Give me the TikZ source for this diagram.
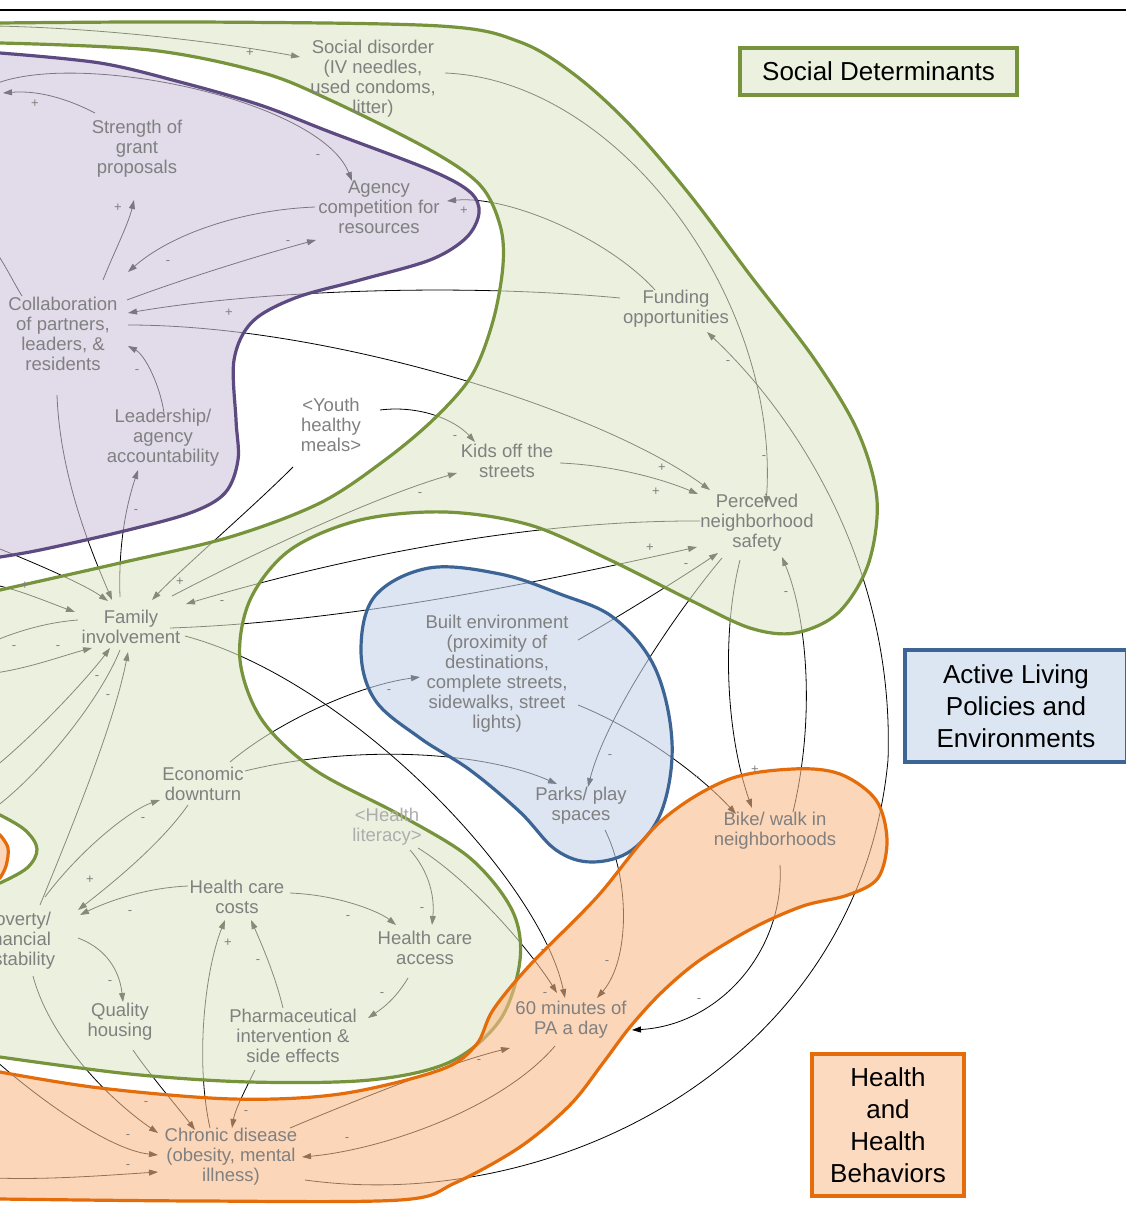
\documentclass[tikz,border=0pt]{standalone}
\usepackage{fontspec}
\setmainfont{Liberation Sans}
\usetikzlibrary{arrows.meta}
\definecolor{txtg}{HTML}{808080}
\definecolor{txtl}{HTML}{ADADAD}
\definecolor{grnL}{HTML}{77933C}
\definecolor{grnF}{RGB}{222,232,200}
\definecolor{grnH}{HTML}{EBF1DE}
\definecolor{purL}{HTML}{5C4A80}
\definecolor{purF}{RGB}{205,195,220}
\definecolor{bluL}{HTML}{3C6494}
\definecolor{bluF}{RGB}{197,213,233}
\definecolor{bluH}{HTML}{DCE6F2}
\definecolor{orgL}{HTML}{E46C0A}
\definecolor{orgF}{RGB}{250,187,137}
\definecolor{orgH}{HTML}{FCDAC0}
\pgfdeclarelayer{bg}\pgfdeclarelayer{conn}\pgfdeclarelayer{blob}
\pgfsetlayers{bg,conn,blob,main}
\begin{document}
\begin{tikzpicture}[x=1pt,y=-1pt,
  lbl/.style={text=txtg, align=center, inner sep=0pt, font=\fontsize{18.5}{20}\selectfont},
  conn/.style={draw=black, line width=0.8pt, -{Triangle[length=9pt,width=6pt]}},
  plainc/.style={draw=black, line width=0.8pt},
  pol/.style={text=txtg, inner sep=0pt, font=\fontsize{13}{13}\selectfont},
  hdr/.style={draw, line width=4pt, align=center, text=black, inner sep=0pt},
  fillG/.style={fill=grnF, fill opacity=0.6, even odd rule},
  lineG/.style={draw=grnL, line width=3.2pt}]
\useasboundingbox (0,0) rectangle (1126,1209);
\begin{pgfonlayer}{bg}
\fill[white] (0,0) rectangle (1126,1209);
\end{pgfonlayer}

% ---------- variable nodes ----------
\node[lbl] (sd) at (373,79) {Social disorder\\(IV needles,\\used condoms,\\litter)};
\node[lbl] (sg) at (137,149) {Strength of\\grant\\proposals};
\node[lbl] (ac) at (379,207) {Agency\\competition for\\resources};
\node[lbl] (co) at (63,334) {Collaboration\\of partners,\\leaders, \&\\residents};
\node[lbl] (fo) at (676,309) {Funding\\opportunities};
\node[lbl] (la) at (163,438) {Leadership/\\agency\\accountability};
\node[lbl] (yh) at (331,425) {<Youth\\healthy\\meals>};
\node[lbl] (ko) at (507,461) {Kids off the\\streets};
\node[lbl] (ps) at (757,523) {Perceived\\neighborhood\\safety};
\node[lbl] (fi) at (131,627) {Family\\involvement};
\node[lbl] (be) at (497,674) {Built environment\\(proximity of\\destinations,\\complete streets,\\sidewalks, street\\lights)};
\node[lbl] (ed) at (203,784) {Economic\\downturn};
\node[lbl] (pp) at (581,806) {Parks/ play\\spaces};
\node[lbl,text=txtl] (hl) at (387,827) {<Health\\literacy>};
\node[lbl] (bw) at (775,831) {Bike/ walk in\\neighborhoods};
\node[lbl] (hc) at (237,897) {Health care\\costs};
\node[lbl] (pv) at (17,941) {Poverty/\\financial\\instability};
\node[lbl] (ha) at (425,948) {Health care\\access};
\node[lbl] (qh) at (120,1022) {Quality\\housing};
\node[lbl] (ph) at (293,1036) {Pharmaceutical\\intervention \&\\side effects};
\node[lbl] (pa) at (571,1020) {60 minutes of\\PA a day};
\node[lbl] (cd) at (231,1157) {Chronic disease\\(obesity, mental\\illness)};

% free ends at the left edge
\coordinate (la1) at (-5,26);
\coordinate (ld1) at (-5,84);
\coordinate (ls1) at (3,93);
\coordinate (lc0) at (-5,250);
\coordinate (lf0) at (-5,547);
\coordinate (lf1) at (-5,585);
\coordinate (lf2) at (-15,645);
\coordinate (lf3) at (-5,673);
\coordinate (lf4) at (-5,767);
\coordinate (lf5) at (-15,815);
\coordinate (lc1) at (-5,1060);
\coordinate (lc2) at (-5,1178);
\coordinate (arcm) at (888,760);

% ---------- connectors ----------
\begin{pgfonlayer}{conn}
\draw[conn] (la1) .. controls +(105,2) and +(-80,-15) .. ([shift={(-73,-22)}]sd.center);
\draw[conn] (ld1) .. controls +(85,-34) and +(-32,-81) .. ([shift={(-27,-26)}]ac.center);
\draw[conn] ([shift={(-42,-36)}]sg.center) .. controls +(-25,-13) and +(37,-3) .. (ls1);
\draw[conn] ([shift={(40,-54)}]co.center) .. controls +(12,-30) and +(-6,25) .. ([shift={(-3,51)}]sg.center);
\draw[conn] ([shift={(-64,0)}]ac.center) .. controls +(-75,3) and +(42,-37) .. ([shift={(65,-62)}]co.center);
\draw[conn] ([shift={(64,-34)}]co.center) .. controls +(53,-20) and +(-56,15) .. ([shift={(-63,33)}]ac.center);
\draw[conn] ([shift={(-21,-19)}]fo.center) .. controls +(-45,-50) and +(63,-6) .. ([shift={(68,-6)}]ac.center);
\draw[conn] ([shift={(-56,-11)}]fo.center) .. controls +(-170,-16) and +(122,-21) .. ([shift={(65,-21)}]co.center);
\draw[conn] ([shift={(65,-9)}]co.center) .. controls +(202,0) and +(-110,-80) .. ([shift={(-47,-33)}]ps.center);
\draw[conn] ([shift={(72,-6)}]sd.center) .. controls +(175,7) and +(14,-205) .. ([shift={(9,-18)}]ps.center);
\draw[conn] ([shift={(74,23)}]cd.center) .. controls +(255,35) and +(-28,300) .. (arcm)
            .. controls +(7,-200) and +(83,78) .. ([shift={(31,23)}]fo.center);
\draw[conn] ([shift={(1,-25)}]la.center) .. controls +(-4,-28) and +(17,9) .. ([shift={(65,12)}]co.center);
\draw[conn] ([shift={(-11,-30)}]fi.center) .. controls +(-2,-57) and +(-10,30) .. ([shift={(-25,32)}]la.center);
\draw[conn] ([shift={(-6,61)}]co.center) .. controls +(3,85) and +(-17,-40) .. ([shift={(-19,-27)}]fi.center);
\draw[conn] (lf0) .. controls +(45,18) and +(-23,-16) .. ([shift={(-23,-26)}]fi.center);
\draw[plainc] (lc0) .. controls +(13,20) and +(-7,-11) .. ([shift={(-41,-38)}]co.center);
\draw[conn] ([shift={(49,-15)}]yh.center) .. controls +(40,-5) and +(-20,-22) .. ([shift={(-32,-19)}]ko.center);
\draw[conn] ([shift={(-38,42)}]yh.center) .. controls +(-43,43) and +(28,-30) .. ([shift={(21,-27)}]fi.center);
\draw[conn] ([shift={(41,-31)}]fi.center) .. controls +(88,-46) and +(-77,22) .. ([shift={(-50,12)}]ko.center);
\draw[conn] ([shift={(53,2)}]ko.center) .. controls +(50,2) and +(-38,-16) .. ([shift={(-59,-29)}]ps.center);
\draw[conn] ([shift={(-57,-2)}]ps.center) .. controls +(-200,-1) and +(114,-34) .. ([shift={(55,-23)}]fi.center);
\draw[conn] ([shift={(39,1)}]fi.center) .. controls +(180,-6) and +(-147,33) .. ([shift={(-60,24)}]ps.center);
\draw[conn] ([shift={(81,-34)}]be.center) .. controls +(52,-30) and +(-28,19) .. ([shift={(-39,30)}]ps.center);
\draw[conn] ([shift={(-35,35)}]ps.center) .. controls +(-52,62) and +(17,-67) .. ([shift={(7,-19)}]pp.center);
\draw[conn] ([shift={(-17,37)}]ps.center) .. controls +(-20,80) and +(-24,-68) .. ([shift={(-23,-23)}]bw.center);
\draw[conn] ([shift={(18,-19)}]bw.center) .. controls +(22,-92) and +(26,63) .. ([shift={(25,34)}]ps.center);
\draw[conn] ([shift={(81,31)}]be.center) .. controls +(62,25) and +(-36,-39) .. ([shift={(-39,-17)}]bw.center);
\draw[conn] ([shift={(27,-22)}]ed.center) .. controls +(50,-42) and +(-60,8) .. ([shift={(-77,3)}]be.center);
\draw[conn] ([shift={(42,-13)}]ed.center) .. controls +(105,-26) and +(-77,-34) .. ([shift={(-24,-22)}]pp.center);
\draw[conn] ([shift={(54,9)}]fi.center) .. controls +(165,44) and +(-25,-118) .. ([shift={(-6,-22)}]pa.center);
\draw[conn] ([shift={(31,21)}]hl.center) .. controls +(52,32) and +(-27,-43) .. ([shift={(-14,-27)}]pa.center);
\draw[conn] ([shift={(23,23)}]hl.center) .. controls +(18,20) and +(3,-30) .. ([shift={(7,-23)}]ha.center);
\draw[conn] ([shift={(24,24)}]pp.center) .. controls +(25,50) and +(33,-38) .. ([shift={(26,-22)}]pa.center);
\draw[conn] ([shift={(5,34)}]bw.center) .. controls +(5,85) and +(88,-5) .. ([shift={(61,10)}]pa.center);
\draw[conn] ([shift={(-15,21)}]ed.center) .. controls +(-28,40) and +(32,-25) .. ([shift={(61,-31)}]pv.center);
\draw[conn] ([shift={(28,-44)}]pv.center) .. controls +(35,-47) and +(-30,10) .. ([shift={(-43,16)}]ed.center);
\draw[conn] ([shift={(-49,-11)}]hc.center) .. controls +(-48,2) and +(20,-10) .. ([shift={(63,-26)}]pv.center);
\draw[conn] ([shift={(53,-4)}]hc.center) .. controls +(50,2) and +(-16,-13) .. ([shift={(-29,-23)}]ha.center);
\draw[conn] ([shift={(61,-3)}]pv.center) .. controls +(32,12) and +(-3,-27) .. ([shift={(3,-20)}]qh.center);
\draw[conn] ([shift={(16,35)}]pv.center) .. controls +(17,64) and +(-48,-33) .. ([shift={(-73,-24)}]cd.center);
\draw[conn] ([shift={(13,28)}]qh.center) .. controls +(17,25) and +(-15,-20) .. ([shift={(-36,-27)}]cd.center);
\draw[conn] ([shift={(-21,-29)}]cd.center) .. controls +(-15,-68) and +(-20,50) .. ([shift={(-12,23)}]hc.center);
\draw[conn] ([shift={(-10,-28)}]ph.center) .. controls +(-8,-33) and +(11,25) .. ([shift={(14,23)}]hc.center);
\draw[conn] ([shift={(-17,30)}]ha.center) .. controls +(-13,22) and +(12,-8) .. ([shift={(75,-18)}]ph.center);
\draw[conn] ([shift={(-38,34)}]ph.center) .. controls +(-10,20) and +(3,-18) .. ([shift={(1,-29)}]cd.center);
\draw[conn] ([shift={(59,-29)}]cd.center) .. controls +(90,-38) and +(-50,12) .. ([shift={(-61,28)}]pa.center);
\draw[conn] ([shift={(-16,26)}]pa.center) .. controls +(-55,64) and +(78,-7) .. ([shift={(71,0)}]cd.center);
\draw[conn] (lc1) .. controls +(45,40) and +(-48,-5) .. ([shift={(-73,-2)}]cd.center);
\draw[conn] (lc2) .. controls +(55,2) and +(-48,3) .. ([shift={(-73,15)}]cd.center);
\draw[conn] (lf1) .. controls +(25,5) and +(-25,-9) .. ([shift={(-56,-15)}]fi.center);
\draw[conn] ([shift={(-53,-7)}]fi.center) .. controls +(-28,2) and +(35,-15) .. (lf2);
\draw[conn] (lf3) .. controls +(35,-5) and +(-27,7) .. ([shift={(-39,21)}]fi.center);
\draw[conn] (lf4) .. controls +(45,-37) and +(-20,27) .. ([shift={(-21,21)}]fi.center);
\draw[conn] ([shift={(-11,23)}]fi.center) .. controls +(-20,50) and +(55,-40) .. (lf5);
\draw[conn] ([shift={(23,-36)}]pv.center) .. controls +(35,-85) and +(-13,68) .. ([shift={(-3,25)}]fi.center);
\end{pgfonlayer}

% ---------- regions ----------
\begin{pgfonlayer}{blob}
\def\gouter{(-30,23) -- plot[smooth,tension=0.55] coordinates {(0,23) (200,22) (440,26) (520,42) (575,75) (630,125) (690,195) (750,275) (815,360) (858,432) (877,500) (868,565) (838,613) (795,633) (750,628) (690,600) (610,560) (530,525) (445,512) (360,520) (290,550) (250,600) (240,660) (262,720) (315,770) (400,815) (470,858) (512,910) (520,960) (500,1020) (450,1062) (370,1080) (250,1082) (130,1074) (0,1057)} -- (-30,1057) -- cycle}
\def\ghole{(-30,43) -- plot[smooth,tension=0.55] coordinates {(0,43) (150,50) (260,72) (330,100) (430,150) (480,185) (500,225) (503,265) (493,321) (472,375) (435,418) (385,460) (320,503) (230,537) (120,563) (0,590)} -- (-30,590) -- cycle}
\def\gholeb{(-30,815) -- plot[smooth,tension=0.6] coordinates {(0,815) (25,830) (37,849) (27,868) (0,883)} -- (-30,883) -- cycle}
\path[fillG] \gouter \ghole \gholeb;
\draw[lineG] \gouter;
\draw[lineG] \ghole;
\draw[lineG] \gholeb;
% purple
\path[fill=purF, fill opacity=0.6] (-30,53) -- plot[smooth,tension=0.55] coordinates {(0,53) (100,63) (180,82) (260,105) (330,132) (430,170) (470,192) (479,213) (466,238) (430,260) (360,280) (295,298) (252,322) (234,360) (236,420) (238,460) (225,493) (190,513) (120,532) (40,550) (0,557)} -- (-30,557) -- cycle;
\draw[draw=purL, line width=3.2pt] (-30,53) -- plot[smooth,tension=0.55] coordinates {(0,53) (100,63) (180,82) (260,105) (330,132) (430,170) (470,192) (479,213) (466,238) (430,260) (360,280) (295,298) (252,322) (234,360) (236,420) (238,460) (225,493) (190,513) (120,532) (40,550) (0,557)} -- (-30,557);
% blue
\path[fill=bluF, fill opacity=0.6, draw=bluL, draw opacity=1, line width=3.2pt] plot[smooth cycle,tension=0.6] coordinates {(375,596) (429,568) (500,574) (560,594) (614,618) (655,668) (672,742) (662,810) (632,850) (592,862) (556,850) (520,812) (470,770) (420,738) (375,700) (361,650)};
% orange
\path[fill=orgF, fill opacity=0.6, draw=orgL, draw opacity=1, line width=3.2pt] (-30,1072) -- plot[smooth,tension=0.55] coordinates {(0,1072) (100,1088) (233,1099) (340,1094) (440,1070) (476,1045) (493,1010) (530,965) (597,897) (660,822) (727,780) (793,769) (840,774) (876,800) (887,840) (878,878) (848,895) (803,906) (753,928) (700,960) (662,992) (630,1027) (603,1063) (570,1105) (520,1147) (455,1183) (400,1200) (200,1201) (0,1199)} -- (-30,1199) -- cycle;
\path[fill=orgF, fill opacity=0.6, draw=orgL, draw opacity=1, line width=3.2pt] (-30,835) -- plot[smooth,tension=0.6] coordinates {(0,835) (8,848) (6,866) (0,878)} -- (-30,878) -- cycle;
\end{pgfonlayer}

% ---------- polarity labels ----------
\node[pol] (q1) at (250,53) {+};
\node[pol] (q2) at (318,157) {-};
\node[pol] (q3) at (35,104) {+};
\node[pol] (q4) at (118,208) {+};
\node[pol] (q5) at (168,263) {-};
\node[pol] (q6) at (288,243) {-};
\node[pol] (q7) at (464,211) {+};
\node[pol] (q8) at (229,313) {+};
\node[pol] (q9) at (662,468) {+};
\node[pol] (q10) at (764,458) {-};
\node[pol] (q11) at (728,363) {-};
\node[pol] (q12) at (137,372) {-};
\node[pol] (q13) at (136,512) {-};
\node[pol] (q14) at (455,438) {-};
\node[pol] (q15) at (180,582) {+};
\node[pol] (q16) at (420,495) {-};
\node[pol] (q17) at (656,492) {+};
\node[pol] (q18) at (222,603) {-};
\node[pol] (q19) at (650,548) {+};
\node[pol] (q20) at (686,566) {-};
\node[pol] (q21) at (610,757) {-};
\node[pol] (q22) at (755,770) {+};
\node[pol] (q23) at (786,594) {-};
\node[pol] (q24) at (697,779) {-};
\node[pol] (q25) at (389,692) {-};
\node[pol] (q26) at (543,952) {-};
\node[pol] (q27) at (545,995) {-};
\node[pol] (q28) at (422,910) {-};
\node[pol] (q29) at (607,963) {-};
\node[pol] (q30) at (699,1001) {-};
\node[pol] (q31) at (90,880) {+};
\node[pol] (q32) at (143,820) {-};
\node[pol] (q33) at (130,913) {-};
\node[pol] (q34) at (348,918) {-};
\node[pol] (q35) at (110,983) {-};
\node[pol] (q36) at (146,1104) {-};
\node[pol] (q37) at (228,943) {+};
\node[pol] (q38) at (258,962) {-};
\node[pol] (q39) at (382,995) {-};
\node[pol] (q40) at (246,1113) {-};
\node[pol] (q41) at (479,1062) {-};
\node[pol] (q42) at (347,1140) {-};
\node[pol] (q43) at (128,1137) {-};
\node[pol] (q44) at (128,1167) {-};
\node[pol] (q45) at (25,586) {+};
\node[pol] (q46) at (14,648) {-};
\node[pol] (q47) at (58,648) {-};
\node[pol] (q48) at (97,678) {-};
\node[pol] (q49) at (108,697) {-};

% ---------- headers ----------
\node[hdr, draw=grnL, fill=grnH, minimum width=277pt, minimum height=47pt, font=\fontsize{26}{28}\selectfont] (hsd) at (878.5,71.5) {Social Determinants};
\node[hdr, draw=bluL, fill=bluH, minimum width=222pt, minimum height=112pt, font=\fontsize{26}{32}\selectfont] (hal) at (1016,706) {Active Living\\Policies and\\Environments};
\node[hdr, draw=orgL, fill=orgH, minimum width=152pt, minimum height=142pt, font=\fontsize{26}{32}\selectfont] (hhb) at (888,1125) {Health\\and\\Health\\Behaviors};

\draw[line width=2.5pt] (0,10) -- (1126,10);
\end{tikzpicture}
\end{document}
